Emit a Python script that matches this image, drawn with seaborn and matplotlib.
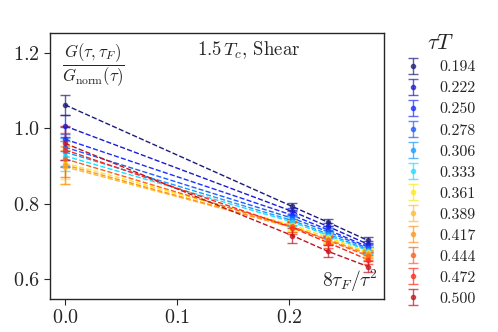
import numpy as np
import pandas as pd
import matplotlib
matplotlib.use("Agg")
import matplotlib.pyplot as plt
import seaborn as sns

# tau*T values (legend)
tauT = ["0.194", "0.222", "0.250", "0.278", "0.306", "0.333",
        "0.361", "0.389", "0.417", "0.444", "0.472", "0.500"]

# flow times 8 tau_F / tau^2 (x=0 is the extrapolation)
flow_x = [0.0, 0.2025, 0.2345, 0.2700]

# G(tau, tau_F) / G_norm(tau), one row per tau*T
ratio = [
    [1.062, 0.793, 0.751, 0.703],
    [1.006, 0.780, 0.740, 0.693],
    [0.971, 0.770, 0.731, 0.686],
    [0.950, 0.762, 0.726, 0.682],
    [0.937, 0.756, 0.720, 0.678],
    [0.927, 0.752, 0.716, 0.676],
    [0.908, 0.744, 0.711, 0.672],
    [0.898, 0.738, 0.706, 0.668],
    [0.903, 0.738, 0.705, 0.666],
    [0.919, 0.740, 0.703, 0.662],
    [0.943, 0.737, 0.697, 0.652],
    [0.960, 0.716, 0.674, 0.634],
]
ratio_err = [
    [0.026, 0.010, 0.009, 0.008],
    [0.030, 0.010, 0.009, 0.008],
    [0.032, 0.011, 0.009, 0.008],
    [0.035, 0.011, 0.010, 0.009],
    [0.036, 0.011, 0.010, 0.009],
    [0.040, 0.012, 0.010, 0.009],
    [0.042, 0.012, 0.011, 0.010],
    [0.045, 0.013, 0.011, 0.010],
    [0.050, 0.013, 0.012, 0.010],
    [0.048, 0.014, 0.012, 0.011],
    [0.045, 0.016, 0.014, 0.012],
    [0.045, 0.019, 0.016, 0.014],
]

colors = ["#1c1c7a", "#1a1ad0", "#1a2eff", "#1f5cff", "#1c9cff", "#1ce0ff",
          "#ffe81a", "#ffbb2a", "#ff951f", "#ff5e1f", "#ff2a1a", "#c0141f"]

sns.set_style("ticks")
plt.rcParams["font.family"] = ["serif"]
plt.rcParams["font.serif"] = ["cmr10", "DejaVu Serif"]
plt.rcParams["mathtext.fontset"] = "cm"
plt.rcParams["axes.formatter.use_mathtext"] = True

rows = []
for t, vals in zip(tauT, ratio):
    for x, v in zip(flow_x, vals):
        rows.append({"tauT": t, "x": x, "ratio": v})
df = pd.DataFrame(rows)

fig = plt.figure(figsize=(4.98, 3.32), dpi=100)
ax = fig.add_axes([0.1004, 0.0994, 0.670, 0.802])

sns.lineplot(data=df, x="x", y="ratio", hue="tauT", palette=colors,
             linestyle="--", linewidth=1.0, legend=False, ax=ax)

handles = []
for t, vals, errs, c in zip(tauT, ratio, ratio_err, colors):
    h = ax.errorbar(flow_x, vals, yerr=errs, fmt="o", color=c, markersize=3,
                    capsize=3.5, elinewidth=1.0, capthick=1.0, alpha=0.7,
                    label=t)
    handles.append(h)

ax.set_xlim(-0.0134, 0.284)
ax.set_ylim(0.548, 1.253)
ax.set_xticks([0.0, 0.1, 0.2])
ax.set_yticks([0.6, 0.8, 1.0, 1.2])
ax.tick_params(labelsize=14.5, direction="out", length=4)
ax.set_xlabel("")
ax.set_ylabel("")
for s in ax.spines.values():
    s.set_visible(True)
    s.set_linewidth(1.0)

ax.text(0.036, 0.968, r"$\dfrac{G(\tau,\tau_F)}{G_\mathrm{norm}(\tau)}$",
        transform=ax.transAxes, ha="left", va="top", fontsize=12)
ax.text(0.44, 0.975, r"$1.5\,T_c$, Shear", transform=ax.transAxes,
        ha="left", va="top", fontsize=13.5)
ax.text(0.983, 0.02, r"$8\tau_F/\tau^2$", transform=ax.transAxes,
        ha="right", va="bottom", fontsize=14)

leg = ax.legend(handles=handles, labels=tauT, title=r"$\tau T$",
                loc="upper left", bbox_to_anchor=(1.02, 1.05), frameon=False,
                fontsize=11.5, title_fontsize=16, handlelength=1.0,
                labelspacing=0.43, handletextpad=1.2)

fig.savefig("out.png", dpi=100)
